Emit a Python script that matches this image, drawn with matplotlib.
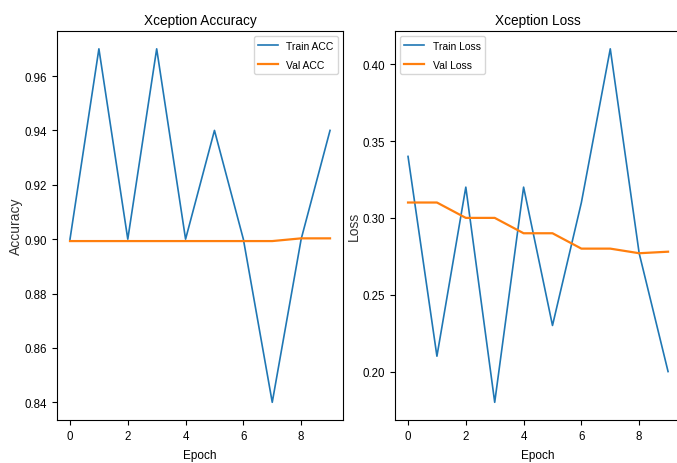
import matplotlib
matplotlib.use('Agg')
import matplotlib.pyplot as plt
import numpy as np

plt.rcParams['font.family'] = ['Liberation Sans', 'DejaVu Sans']

# Training history
epochs = np.arange(10)
train_acc = [0.90, 0.97, 0.90, 0.97, 0.90, 0.94, 0.90, 0.84, 0.90, 0.94]
val_acc = [0.8993, 0.8993, 0.8993, 0.8993, 0.8993, 0.8993, 0.8993, 0.8993, 0.9003, 0.9003]
train_loss = [0.34, 0.21, 0.32, 0.18, 0.32, 0.23, 0.31, 0.41, 0.277, 0.20]
val_loss = [0.31, 0.31, 0.30, 0.30, 0.29, 0.29, 0.28, 0.28, 0.277, 0.278]

acc_ticks = [0.84, 0.86, 0.88, 0.90, 0.92, 0.94, 0.96]
loss_ticks = [0.20, 0.25, 0.30, 0.35, 0.40]
epoch_ticks = [0, 2, 4, 6, 8]

fig = plt.figure(figsize=(6.77, 4.64), dpi=100)
ax1 = fig.add_axes([0.0842, 0.0927, 0.4225, 0.838])
ax2 = fig.add_axes([0.5835, 0.0927, 0.4225, 0.838])

blue = '#1f77b4'
orange = '#ff7f0e'


def style_axes(ax, title, ylabel, yticks):
    ax.set_title(title, fontsize=9.8, pad=5)
    ax.set_xlabel('Epoch', fontsize=8.5, labelpad=5)
    ax.set_ylabel(ylabel, fontsize=10, labelpad=1, color='#333333')
    ax.set_xticks(epoch_ticks)
    ax.set_yticks(yticks)
    ax.set_yticklabels([f'{t:.2f}' for t in yticks])
    ax.tick_params(labelsize=8.3, length=3.5)


ax1.plot(epochs, train_acc, color=blue, lw=1.2, label='Train ACC')
ax1.plot(epochs, val_acc, color=orange, lw=1.6, label='Val ACC')
style_axes(ax1, 'Xception Accuracy', 'Accuracy', acc_ticks)
ax1.legend(loc='upper right', fontsize=7.5, handlelength=1.9, labelspacing=0.9)

ax2.plot(epochs, train_loss, color=blue, lw=1.2, label='Train Loss')
ax2.plot(epochs, val_loss, color=orange, lw=1.6, label='Val Loss')
style_axes(ax2, 'Xception Loss', 'Loss', loss_ticks)
ax2.legend(loc='upper left', fontsize=7.5, handlelength=1.9, labelspacing=0.9)

fig.savefig('out.png', dpi=100)
